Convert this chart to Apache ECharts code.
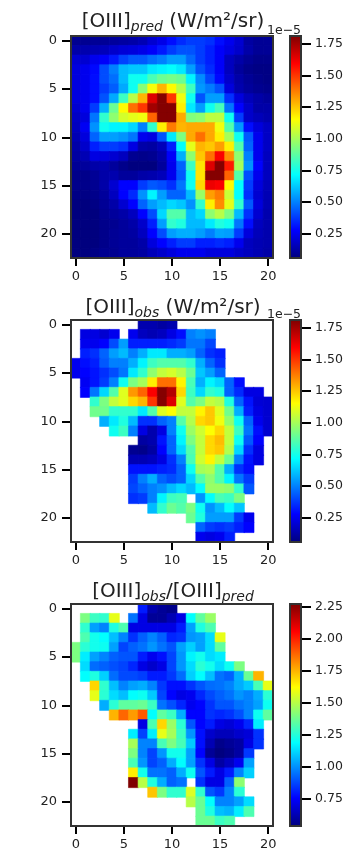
<!DOCTYPE html>
<html>
<head>
<meta charset="utf-8">
<script src="https://cdn.jsdelivr.net/npm/echarts@6/dist/echarts.min.js"></script>
<style>
  html, body { margin: 0; padding: 0; background: #fff; }
  #chart { width: 360px; height: 864px; }
</style>
</head>
<body>
<div id="chart"></div>
<script>
const _ = null;
const xCats = Array.from({ length: 21 }, (v, i) => String(i));
const yCats = Array.from({ length: 23 }, (v, i) => String(i));

// values in units of 1e-5 W/m2/sr
const predRows = [
  [.09,.09,.1,.1,.11,.12,.13,.15,.2,.24,.3,.35,.38,.38,.36,.3,.25,.2,.12,.1,.1],
  [.13,.14,.15,.16,.19,.21,.22,.24,.27,.32,.38,.42,.42,.38,.33,.27,.23,.19,.13,.1,.1],
  [.2,.2,.25,.27,.32,.39,.43,.43,.47,.5,.55,.55,.46,.38,.33,.27,.17,.13,.1,.08,.08],
  [.22,.25,.29,.41,.5,.6,.62,.62,.68,.7,.72,.68,.55,.42,.35,.27,.17,.11,.08,.07,.07],
  [.22,.25,.3,.41,.47,.6,.74,.74,.84,.9,.92,.9,.7,.52,.4,.29,.19,.13,.1,.08,.07],
  [.22,.25,.3,.38,.44,.57,.74,.95,1.14,1.28,1.16,1.03,.82,.54,.49,.42,.22,.14,.11,.09,.08],
  [.22,.25,.3,.42,.57,.82,1.03,1.28,1.65,1.8,1.5,1.13,.74,.42,.55,.55,.36,.22,.16,.13,.11],
  [.2,.25,.38,.58,.9,1.16,1.4,1.5,1.75,1.8,1.8,1.18,.68,.55,.74,.84,.48,.28,.19,.13,.13],
  [.18,.22,.48,.8,.96,1.08,1.11,1.13,1.42,1.8,1.8,1.3,.94,.96,1.04,1.04,.74,.38,.19,.16,.14],
  [.17,.26,.53,.74,.7,.7,.65,.5,.8,1.18,1.38,1.28,1.3,1.3,1.3,1.13,.86,.54,.3,.22,.18],
  [.15,.22,.45,.55,.55,.53,.48,.25,.23,.42,.68,.93,1.3,1.4,1.3,1.18,1.0,.74,.43,.25,.18],
  [.13,.19,.33,.38,.38,.36,.23,.13,.12,.16,.33,.72,1.11,1.28,1.25,1.32,1.18,.86,.45,.25,.18],
  [.12,.15,.23,.22,.2,.17,.09,.08,.09,.13,.27,.58,.96,1.25,1.4,1.6,1.35,.96,.5,.25,.17],
  [.1,.11,.13,.14,.11,.08,.06,.06,.06,.11,.25,.45,.82,1.2,1.65,1.8,1.55,1.0,.53,.28,.17],
  [.08,.08,.1,.13,.14,.11,.11,.13,.14,.16,.25,.43,.74,1.2,1.8,1.8,1.42,.86,.41,.25,.17],
  [.08,.08,.09,.13,.2,.28,.28,.38,.43,.41,.36,.48,.74,1.22,1.62,1.6,1.16,.72,.38,.22,.16],
  [.07,.07,.08,.11,.17,.28,.35,.53,.7,.55,.45,.45,.6,.98,1.32,1.38,1.06,.72,.36,.2,.15],
  [.06,.06,.07,.1,.13,.2,.28,.45,.55,.6,.65,.62,.53,.8,1.18,1.35,1.11,.8,.43,.22,.15],
  [.06,.06,.06,.09,.11,.13,.17,.28,.41,.65,.86,.86,.6,.65,.96,1.03,.93,.6,.36,.2,.14],
  [.06,.06,.06,.08,.09,.11,.13,.19,.33,.55,.8,.77,.6,.6,.68,.77,.74,.48,.3,.17,.14],
  [.06,.06,.06,.08,.1,.11,.12,.17,.28,.41,.55,.58,.58,.55,.5,.56,.55,.38,.22,.16,.14],
  [.06,.06,.06,.08,.1,.11,.11,.13,.22,.28,.33,.38,.38,.33,.33,.35,.33,.25,.17,.15,.14],
  [.06,.06,.07,.09,.09,.11,.11,.12,.16,.19,.22,.25,.25,.25,.22,.22,.22,.19,.17,.15,.13]
];

const obsRows = [
  [_,_,_,_,_,_,_,.14,.14,.12,.14,_,_,_,_,_,_,_,_,_,_],
  [_,.23,.23,.2,.25,_,.25,.17,.15,.17,.23,.3,.5,.53,.5,_,_,_,_,_,_],
  [_,.25,.25,.28,.41,.55,.33,.33,.33,.33,.35,.38,.48,.48,.4,_,_,_,_,_,_],
  [_,.33,.36,.45,.55,.6,.5,.58,.68,.68,.58,.58,.55,.45,.36,.33,_,_,_,_,_],
  [.25,.3,.33,.43,.5,.5,.58,.7,.82,.86,.86,.86,.8,.58,.45,.36,_,_,_,_,_],
  [.25,.28,.31,.36,.41,.48,.68,.8,.96,1.05,1.08,1.03,.9,.62,.55,.45,_,_,_,_,_],
  [_,.26,.31,.38,.5,.74,.93,1.0,1.18,1.4,1.4,1.17,.84,.58,.7,.65,.45,.3,_,_,_],
  [_,.28,.48,.65,.86,1.1,1.33,1.42,1.6,1.8,1.72,1.22,.82,.65,.8,.77,.45,.35,.23,.23,_],
  [_,_,.8,.93,1.05,1.1,1.22,1.28,1.5,1.8,1.65,1.1,.86,.93,1.05,1.02,.77,.45,.31,.21,.2],
  [_,_,.91,.91,.8,.8,.8,.68,.86,1.1,1.15,1.05,1.05,1.17,1.25,1.1,.91,.58,.33,.23,.2],
  [_,_,_,.58,.68,.77,.6,.36,.36,.45,.5,.86,1.02,1.22,1.25,1.13,.97,.74,.45,.25,.2],
  [_,_,_,_,.74,.82,.5,.23,.14,.23,.5,.74,.98,1.07,1.15,1.22,1.05,.82,.48,.3,.2],
  [_,_,_,_,_,_,_,.12,.14,.31,.45,.7,.93,1.05,1.22,1.27,1.05,.74,.43,.28,_],
  [_,_,_,_,_,_,.09,.08,.12,.28,.45,.65,.86,1.05,1.22,1.25,1.02,.65,.36,.23,_],
  [_,_,_,_,_,_,.15,.15,.17,.23,.36,.5,.84,1.07,1.17,1.05,.9,.5,.31,.23,_],
  [_,_,_,_,_,_,.31,.31,.31,.33,.35,.45,.74,1.0,1.02,.86,.58,.36,.3,_,_],
  [_,_,_,_,_,_,.38,.5,.58,.45,.41,.45,.65,.86,.96,.86,.7,.48,.38,_,_],
  [_,_,_,_,_,_,.4,.45,.5,.53,.6,.65,.6,.72,.98,.98,.96,.8,.43,_,_],
  [_,_,_,_,_,_,.36,.38,.5,.7,.82,.84,_,.53,.72,.84,.82,.93,_,_,_],
  [_,_,_,_,_,_,_,_,.6,.8,.9,.86,.93,.74,.53,.6,.72,.62,_,_,_],
  [_,_,_,_,_,_,_,_,_,_,_,_,.9,.77,.55,.55,.55,.38,.25,_,_],
  [_,_,_,_,_,_,_,_,_,_,_,_,_,.45,.38,.36,.38,.33,.28,_,_],
  [_,_,_,_,_,_,_,_,_,_,_,_,_,.25,.23,.25,.33,_,_,_,_]
];

const ratioRows = [
  [_,_,_,_,_,_,_,.8,.62,.58,.56,_,_,_,_,_,_,_,_,_,_],
  [_,1.4,1.29,1.27,1.58,_,.95,.71,.58,.58,.63,.71,1.19,1.35,1.45,_,_,_,_,_,_],
  [_,1.27,1.03,.98,1.24,1.32,.71,.71,.71,.71,.71,.8,1.03,1.24,1.32,_,_,_,_,_,_],
  [_,1.32,1.22,1.19,1.08,.98,.84,.92,.98,.92,.82,.84,1.01,1.03,1.13,1.58,_,_,_,_,_],
  [1.4,1.26,1.22,1.21,1.03,.87,.92,.95,1.01,.95,.9,1.03,1.11,1.03,1.13,1.35,_,_,_,_,_],
  [1.4,1.16,1.03,.98,.92,.9,.9,.8,.73,.78,.87,1.01,1.17,1.22,1.13,1.16,_,_,_,_,_],
  [_,1.13,.94,.92,.89,.87,.82,.71,.67,.71,.87,1.01,1.13,1.26,1.22,1.13,1.21,1.4,_,_,_],
  [_,1.19,1.24,1.11,.94,.88,.88,.86,.8,.8,.85,.94,1.11,1.19,1.08,.95,.92,1.06,1.37,1.75,_],
  [_,_,1.69,1.27,1.08,.98,1.03,1.05,.98,.85,.78,.78,.84,.9,.94,.95,.98,1.05,1.1,1.31,1.58],
  [_,_,1.58,1.26,1.13,1.08,1.19,1.21,1.1,.87,.76,.71,.73,.82,.88,.92,.95,1.01,.98,1.05,1.26],
  [_,_,_,1.05,1.26,1.35,1.35,1.37,1.29,.95,.89,.82,.73,.76,.84,.9,.9,.95,.98,1.03,1.21],
  [_,_,_,_,1.75,1.88,1.79,1.9,1.19,1.35,1.29,1.05,.76,.76,.84,.82,.84,.89,.98,1.21,1.35],
  [_,_,_,_,_,_,_,.71,1.32,1.69,1.45,1.26,.9,.76,.8,.71,.69,.73,.82,1.16,_],
  [_,_,_,_,_,_,1.16,.87,1.16,1.58,1.47,1.29,1.01,.78,.67,.64,.64,.67,.69,.84,_],
  [_,_,_,_,_,_,1.47,.98,.98,1.31,1.4,1.31,1.1,.78,.63,.56,.58,.6,.71,.84,_],
  [_,_,_,_,_,_,1.4,.98,.87,1.01,1.22,1.22,1.03,.76,.58,.54,.56,.6,.85,_,_],
  [_,_,_,_,_,_,1.31,1.01,.87,.92,1.05,1.19,1.03,.84,.71,.6,.65,.73,1.03,_,_],
  [_,_,_,_,_,_,1.65,1.22,.95,.95,.92,1.05,1.21,.9,.8,.71,.8,.98,1.11,_,_],
  [_,_,_,_,_,_,2.27,1.5,1.24,1.05,.92,.95,_,.84,.71,.71,.92,1.43,_,_,_],
  [_,_,_,_,_,_,_,_,1.72,1.4,1.27,1.27,1.56,1.27,.9,.85,.98,1.26,_,_,_],
  [_,_,_,_,_,_,_,_,_,_,_,_,1.5,1.37,1.19,.98,.98,1.03,1.13,_,_],
  [_,_,_,_,_,_,_,_,_,_,_,_,_,1.37,1.24,1.08,1.06,1.16,1.32,_,_],
  [_,_,_,_,_,_,_,_,_,_,_,_,_,1.37,1.37,1.29,1.32,_,_,_,_]
];

const fluxTicks = [0.25, 0.5, 0.75, 1, 1.25, 1.5, 1.75];
const ratioTicks = [0.75, 1, 1.25, 1.5, 1.75, 2, 2.25];
const jet = ['#00007f', '#0000ff', '#007fff', '#00ffff', '#7fff7f', '#ffff00', '#ff7f00', '#ff0000', '#7f0000'];

const panels = [
  { rows: predRows, top: 36, min: 0.06, max: 1.81, ticks: fluxTicks, head: '{t|[OIII]}{s|pred}{t| (W/m²/sr)}', titleTop: 5, offset: '1e−5' },
  { rows: obsRows, top: 320, min: 0.06, max: 1.81, ticks: fluxTicks, head: '{t|[OIII]}{s|obs}{t| (W/m²/sr)}', titleTop: 291, offset: '1e−5' },
  { rows: ratioRows, top: 604, min: 0.54, max: 2.27, ticks: ratioTicks, head: '{t|[OIII]}{s|obs}{t|/[OIII]}{s|pred}', titleTop: 575 }
];

const mapH = 222, mapLeft = 71, mapW = 202, barLeft = 290, barW = 11;
const font = 'DejaVu Sans';
const dark = '#222';

// the border in the cell's own colour hides the seams between cells
function cells(p) {
  const out = [];
  p.rows.forEach((r, y) => r.forEach((v, x) => {
    if (v === null) return;
    const c = echarts.color.lerp((v - p.min) / (p.max - p.min), jet);
    out.push({ value: [x, y, v], itemStyle: { borderColor: c, borderWidth: 0.6 } });
  }));
  return out;
}

const option = { animation: false, backgroundColor: '#fff', title: [], grid: [], xAxis: [], yAxis: [], visualMap: [], series: [], graphic: [] };

panels.forEach((p, i) => {
  const g = i * 2, b = g + 1; // heatmap grid, colorbar grid
  option.grid.push(
    { left: mapLeft, top: p.top, width: mapW, height: mapH },
    { left: barLeft, top: p.top, width: barW, height: mapH }
  );
  option.title.push({
    text: p.head, left: 168, top: p.titleTop, textAlign: 'center',
    textStyle: {
      fontWeight: 'normal',
      rich: {
        t: { fontFamily: font, fontSize: 20, fontWeight: 'normal', color: dark, lineHeight: 24, verticalAlign: 'middle' },
        s: { fontFamily: font, fontSize: 14, fontWeight: 'normal', fontStyle: 'italic', color: dark, lineHeight: 24, verticalAlign: 'bottom', padding: [6, 0, 0, 0] }
      }
    }
  });
  if (p.offset) {
    option.title.push({ text: p.offset, left: 267, top: p.top - 12, padding: 0, textStyle: { fontFamily: font, fontSize: 12.5, fontWeight: 'normal', color: dark } });
  }
  option.xAxis.push(
    {
      type: 'category', gridIndex: g, data: xCats, position: 'bottom',
      axisLine: { show: true, lineStyle: { color: '#333', width: 2 } },
      axisTick: { show: true, alignWithLabel: true, interval: 4, length: 8, lineStyle: { color: '#000', width: 2 } },
      axisLabel: { interval: 4, fontFamily: font, fontSize: 13, color: dark, margin: 12 },
      splitLine: { show: false }
    },
    { type: 'category', gridIndex: b, data: ['c'], show: false }
  );
  option.yAxis.push(
    {
      type: 'category', gridIndex: g, data: yCats, inverse: true,
      axisLine: { show: true, lineStyle: { color: '#333', width: 2 } },
      axisTick: { show: true, alignWithLabel: true, interval: 4, length: 9, lineStyle: { color: '#000', width: 2 } },
      axisLabel: { interval: 4, fontFamily: font, fontSize: 13, color: dark, margin: 14 },
      splitLine: { show: false }
    },
    {
      type: 'value', gridIndex: b, position: 'right', min: p.min, max: p.max,
      axisLine: { show: true, lineStyle: { color: '#333', width: 2 } },
      axisTick: { show: true, customValues: p.ticks, length: 10, lineStyle: { color: '#000', width: 2 } },
      axisLabel: { show: true, customValues: p.ticks, formatter: v => v.toFixed(2), fontFamily: font, fontSize: 12.5, color: dark, margin: 14 },
      splitLine: { show: false }
    }
  );
  option.visualMap.push({ show: false, type: 'continuous', seriesIndex: option.series.length, min: p.min, max: p.max, dimension: 2, inRange: { color: jet } });
  option.series.push(
    { type: 'heatmap', xAxisIndex: g, yAxisIndex: g, data: cells(p), progressive: 0 },
    {
      type: 'bar', xAxisIndex: b, yAxisIndex: b, data: [p.max], barWidth: '100%', silent: true,
      itemStyle: {
        color: new echarts.graphic.LinearGradient(0, 1, 0, 0, jet.map((c, k) => ({ offset: k / (jet.length - 1), color: c })))
      }
    }
  );
  // frames go on top of the cells
  [[mapLeft, mapW], [barLeft, barW]].forEach(([l, w]) => {
    option.graphic.push({
      type: 'rect', z: 100, silent: true,
      shape: { x: l, y: p.top, width: w, height: mapH },
      style: { fill: 'none', stroke: '#333', lineWidth: 2 }
    });
  });
});

const chart = echarts.init(document.getElementById('chart'), null, { renderer: 'canvas' });
chart.setOption(option);
</script>
</body>
</html>
